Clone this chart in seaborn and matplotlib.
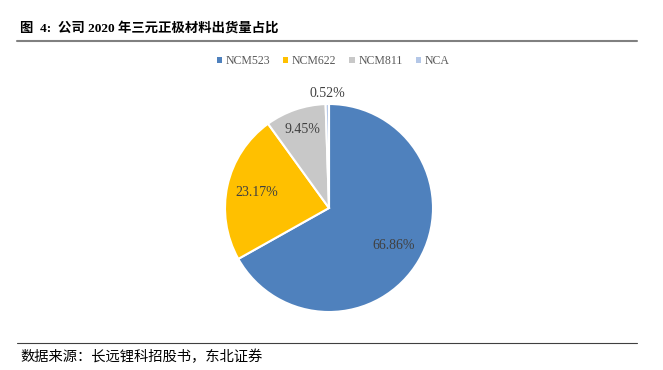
import numpy as np
import matplotlib
matplotlib.use('Agg')
import matplotlib.pyplot as plt
import seaborn as sns
from matplotlib.patches import Patch
from matplotlib.lines import Line2D

# data
categories = ['NCM523', 'NCM622', 'NCM811', 'NCA']
shares = [66.86, 23.17, 9.45, 0.52]
colors = ['#4F81BD', '#FFC000', '#C8C8C8', '#B4C7E7']
label_dist = [0.72, 0.71, 0.80, 1.10]

sns.set_theme(style='white')
plt.rcParams['font.family'] = ['Liberation Serif', 'Noto Sans CJK SC']

W, H = 663, 370
fig = plt.figure(figsize=(W / 100, H / 100), dpi=100)

cx, cy, R = 329, 208, 104
half = 130
ax = fig.add_axes([(cx - half) / W, (H - cy - half) / H, 2 * half / W, 2 * half / H])
wedges, _ = ax.pie(shares, colors=colors, startangle=90, counterclock=False,
                   wedgeprops=dict(edgecolor='white', linewidth=1.5))
lim = half / R
ax.set_xlim(-lim, lim)
ax.set_ylim(-lim, lim)
ax.set_aspect('equal')
ax.axis('off')

for w, v, d in zip(wedges, shares, label_dist):
    ang = np.deg2rad((w.theta1 + w.theta2) / 2)
    ax.text(d * np.cos(ang), d * np.sin(ang), f'{v:.2f}%', ha='center', va='center',
            fontsize=10, color='#404040')

handles = [Patch(facecolor=c, edgecolor='none') for c in colors]
fig.legend(handles, categories, loc='center', bbox_to_anchor=(333 / W, 1 - 61 / H), ncol=4,
           frameon=False, fontsize=8.5, handlelength=0.45, handleheight=0.45,
           handletextpad=0.3, columnspacing=1.1, labelcolor='#595959')

# title, rules and source
fig.text(20 / W, 1 - 28 / H, '图  4:  公司 2020 年三元正极材料出货量占比', fontsize=9.6,
         fontweight='bold', ha='left', va='center', color='black')
fig.add_artist(Line2D([17 / W, 637 / W], [1 - 41 / H, 1 - 41 / H], color='#808080', lw=1.5))
fig.add_artist(Line2D([17 / W, 637 / W], [1 - 343 / H, 1 - 343 / H], color='#404040', lw=0.8))
fig.text(20 / W, 1 - 357 / H, '数据来源：长远锂科招股书，东北证券', fontsize=10.3,
         ha='left', va='center', color='black')

fig.savefig('out.png', dpi=100)
